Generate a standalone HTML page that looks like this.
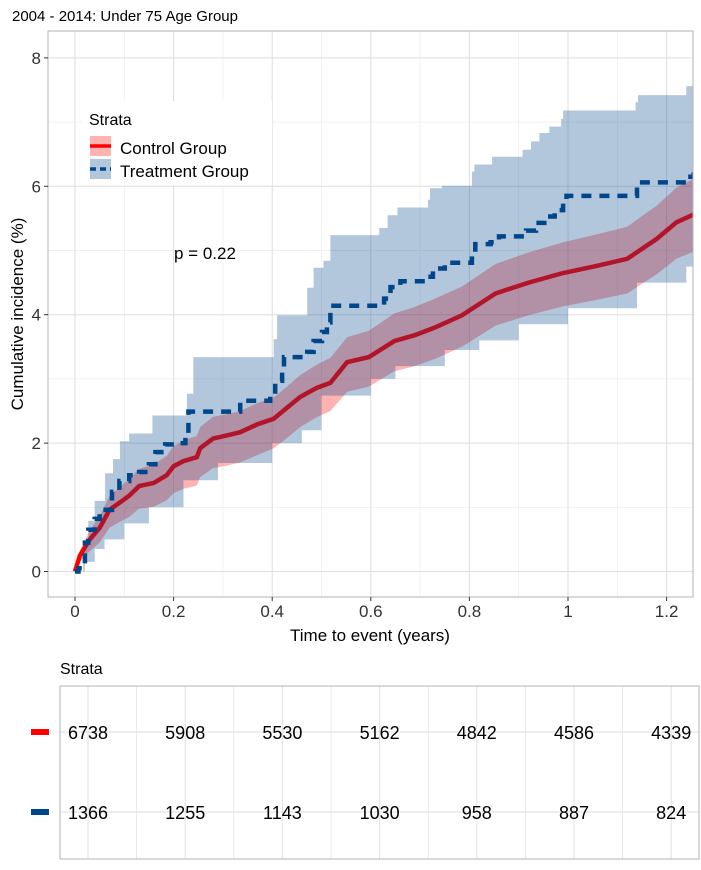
<!DOCTYPE html>
<html><head><meta charset="utf-8">
<style>
html,body{margin:0;padding:0;background:#fff;}
svg{display:block;font-family:"Liberation Sans",sans-serif;}
</style></head>
<body>
<svg id="chart" width="701" height="870" viewBox="0 0 701 870"></svg>
<script>
// ---- data ----
const controlTimes = [0,0.01,0.03,0.05,0.07,0.09,0.11,0.13,0.16,0.186,0.2,0.22,0.247,0.254,0.28,0.308,0.335,0.369,0.403,0.43,0.457,0.49,0.518,0.552,0.596,0.648,0.689,0.73,0.785,0.853,0.92,0.99,1.058,1.12,1.18,1.22,1.26];
const controlValues = [0,0.25,0.5,0.68,0.96,1.07,1.18,1.33,1.38,1.5,1.64,1.72,1.78,1.92,2.07,2.12,2.17,2.29,2.38,2.55,2.72,2.86,2.94,3.26,3.34,3.59,3.68,3.8,3.99,4.33,4.5,4.65,4.76,4.87,5.18,5.44,5.58];
const controlUpper = [0,0.33,0.64,0.86,1.18,1.31,1.44,1.6,1.67,1.8,1.95,2.04,2.11,2.25,2.41,2.45,2.5,2.62,2.71,2.88,3.06,3.22,3.33,3.65,3.75,4.02,4.12,4.25,4.44,4.79,4.97,5.13,5.25,5.37,5.7,5.98,6.14];
const controlLower = [0,0.15,0.32,0.45,0.68,0.77,0.85,0.98,1.01,1.11,1.22,1.29,1.34,1.47,1.61,1.65,1.7,1.81,1.92,2.08,2.25,2.4,2.5,2.8,2.88,3.12,3.2,3.31,3.5,3.83,3.99,4.13,4.23,4.33,4.63,4.87,5.0];
const treatTimes = [0,0.007,0.02,0.027,0.04,0.05,0.075,0.09,0.11,0.13,0.15,0.163,0.183,0.203,0.224,0.23,0.335,0.396,0.406,0.42,0.424,0.471,0.484,0.501,0.511,0.518,0.627,0.64,0.66,0.715,0.726,0.75,0.805,0.812,0.843,0.86,0.915,0.935,0.952,0.973,0.99,0.997,1.14,1.243,1.255];
const treatValues = [0,0.05,0.45,0.65,0.82,0.96,1.24,1.41,1.5,1.55,1.67,1.86,1.98,2.0,2.12,2.49,2.66,2.77,2.97,3.17,3.34,3.42,3.59,3.73,3.88,4.14,4.25,4.43,4.52,4.59,4.72,4.81,4.93,5.1,5.13,5.22,5.31,5.43,5.53,5.63,5.75,5.85,6.06,6.15,6.23];
const treatUpperTimes = [0,0.017,0.027,0.04,0.061,0.077,0.091,0.11,0.157,0.227,0.24,0.403,0.41,0.471,0.484,0.504,0.518,0.617,0.634,0.654,0.716,0.72,0.744,0.805,0.81,0.846,0.908,0.925,0.942,0.962,0.986,0.99,1.137,1.142,1.24,1.255];
const treatUpperValues = [0,0.45,0.79,1.1,1.53,1.75,2.03,2.15,2.43,2.77,3.34,3.62,3.99,4.42,4.73,4.84,5.24,5.35,5.55,5.67,5.79,5.97,6.01,6.23,6.34,6.46,6.57,6.7,6.83,6.93,7.05,7.18,7.31,7.42,7.56,7.7];
const treatLowerTimes = [0,0.02,0.04,0.06,0.1,0.15,0.22,0.29,0.4,0.46,0.5,0.6,0.65,0.75,0.82,0.9,1.0,1.14,1.24];
const treatLowerValues = [0,0.15,0.35,0.5,0.75,1.0,1.42,1.69,2.0,2.2,2.74,3.0,3.2,3.45,3.6,3.85,4.1,4.5,4.75];
const xTicks = [0,0.2,0.4,0.6,0.8,1,1.2];
const xTickLabels = ["0","0.2","0.4","0.6","0.8","1","1.2"];
const yTicks = [0,2,4,6,8];
const yTickLabels = ["0","2","4","6","8"];
const riskTimes = [0,0.2,0.4,0.6,0.8,1,1.2];
const riskControl = ["6738","5908","5530","5162","4842","4586","4339"];
const riskTreatment = ["1366","1255","1143","1030","958","887","824"];

// ---- layout ----
const NS="http://www.w3.org/2000/svg";
const svg=document.getElementById('chart');
const P={l:48,r:693,t:31,b:597};
const XMAX=1.26;
function x(t){return 75+t*493;}
function y(v){return 571.5-v*64.2;}
function tx(t){return 88+t*486;}
function el(tag,attrs,parent){const e=document.createElementNS(NS,tag);for(const k in attrs)e.setAttribute(k,attrs[k]);(parent||svg).appendChild(e);return e;}
function stepPts(ts,vs,end){let p=[];for(let i=0;i<ts.length;i++){if(i>0)p.push([x(ts[i]),y(vs[i-1])]);p.push([x(ts[i]),y(vs[i])]);}p.push([x(end),y(vs[vs.length-1])]);return p;}
function linePts(ts,vs){let p=[];for(let i=0;i<ts.length;i++)p.push([x(ts[i]),y(vs[i])]);return p;}
function ptsStr(p){return p.map(a=>a[0].toFixed(1)+','+a[1].toFixed(1)).join(' ');}

let t0=el('text',{x:12,y:21,'font-size':15,fill:'#000'});t0.textContent='2004 - 2014: Under 75 Age Group';


const defs=el('defs',{});
const cp=el('clipPath',{id:'clip'},defs);el('rect',{x:P.l,y:P.t,width:P.r-P.l,height:P.b-P.t},cp);
const grid=el('g',{});

for(let k=0;k<=13;k++){const t=k*0.1;if(x(t)>P.r)break;el('line',{x1:x(t),x2:x(t),y1:P.t,y2:P.b,stroke:k%2?'#ebebeb':'#dedede','stroke-width':k%2?0.7:1},grid);}
for(let v=0;v<=8;v++){el('line',{x1:P.l,x2:P.r,y1:y(v),y2:y(v),stroke:v%2?'#ebebeb':'#dedede','stroke-width':v%2?0.7:1},grid);}

const plot=el('g',{'clip-path':'url(#clip)'});
const cu=linePts(controlTimes,controlUpper);
const clo=linePts(controlTimes,controlLower);
const cRib=el('polygon',{points:ptsStr(cu.concat(clo.reverse())),fill:'#ff0000','fill-opacity':0.3},plot);

const cLine=el('polyline',{points:ptsStr(linePts(controlTimes,controlValues)),fill:'none',stroke:'#ff0000','stroke-width':4.5},plot);

const tu=stepPts(treatUpperTimes,treatUpperValues,XMAX);
const tl=stepPts(treatLowerTimes,treatLowerValues,XMAX);
const tRib=el('polygon',{points:ptsStr(tu.concat(tl.reverse())),fill:'#00468b','fill-opacity':0.3},plot);

const tLine=el('polyline',{points:ptsStr(stepPts(treatTimes,treatValues,XMAX)),fill:'none',stroke:'#00468b','stroke-width':4.5,'stroke-dasharray':'10 8'},plot);


const border=el('rect',{x:P.l,y:P.t,width:P.r-P.l,height:P.b-P.t,fill:'none',stroke:'#b3b3b3','stroke-width':1});


for(let i=0;i<xTicks.length;i++){
  el('line',{x1:x(xTicks[i]),x2:x(xTicks[i]),y1:P.b,y2:P.b+4,stroke:'#333'});
  const tt=el('text',{x:x(xTicks[i]),y:617,'font-size':17,fill:'#333','text-anchor':'middle'});tt.textContent=xTickLabels[i];
  
}
for(let i=0;i<yTicks.length;i++){
  el('line',{x1:P.l-4,x2:P.l,y1:y(yTicks[i]),y2:y(yTicks[i]),stroke:'#333'});
  const tt=el('text',{x:41,y:y(yTicks[i])+6,'font-size':17,fill:'#333','text-anchor':'end'});tt.textContent=yTickLabels[i];
  
}
const xt=el('text',{x:370,y:641,'font-size':17,fill:'#000','text-anchor':'middle'});xt.textContent='Time to event (years)';

const yt=el('text',{x:0,y:0,'font-size':17,fill:'#000','text-anchor':'middle',transform:'translate(23,314) rotate(-90)'});yt.textContent='Cumulative incidence (%)';


const lg=el('g',{});

el('rect',{x:82,y:101,width:190,height:84,fill:'#fff'},lg);
let lt=el('text',{x:89,y:125,'font-size':16,fill:'#000'},lg);lt.textContent='Strata';
const e1=el('g',{},lg);
el('rect',{x:90,y:136,width:21,height:20,fill:'#ff0000','fill-opacity':0.3},e1);
el('line',{x1:90,x2:111,y1:146,y2:146,stroke:'#ff0000','stroke-width':3.5},e1);
let l1=el('text',{x:120,y:154,'font-size':17,fill:'#000'},e1);l1.textContent='Control Group';
const e2=el('g',{},lg);
el('rect',{x:90,y:159,width:21,height:20,fill:'#00468b','fill-opacity':0.3},e2);
el('line',{x1:90,x2:111,y1:169,y2:169,stroke:'#00468b','stroke-width':3.5,'stroke-dasharray':'6 4'},e2);
let l2=el('text',{x:120,y:177,'font-size':17,fill:'#000'},e2);l2.textContent='Treatment Group';

const pv=el('text',{x:174,y:259,'font-size':17,fill:'#000'});pv.textContent='p = 0.22';


const st=el('text',{x:60,y:674,'font-size':16,fill:'#000'});st.textContent='Strata';

const tb=el('g',{});
const T={l:60,r:699,t:686,b:859};
for(let k=0;k<=12;k++){const xx=tx(k*0.1);el('line',{x1:xx,x2:xx,y1:T.t,y2:T.b,stroke:'#e0e0e0','stroke-width':k%2?0.7:1},tb);}
el('line',{x1:T.l,x2:T.r,y1:732,y2:732,stroke:'#dedede'},tb);
el('line',{x1:T.l,x2:T.r,y1:812,y2:812,stroke:'#dedede'},tb);
el('rect',{x:T.l,y:T.t,width:T.r-T.l,height:T.b-T.t,fill:'none',stroke:'#b3b3b3'},tb);
const m1=el('rect',{x:31,y:729,width:18,height:6,fill:'#ff0000'});

const m2=el('rect',{x:31,y:809,width:18,height:6,fill:'#00468b'});

for(let i=0;i<riskTimes.length;i++){
  const a=el('text',{x:tx(riskTimes[i]),y:739,'font-size':18,fill:'#000','text-anchor':'middle'},tb);a.textContent=riskControl[i];
  
  const b=el('text',{x:tx(riskTimes[i]),y:819,'font-size':18,fill:'#000','text-anchor':'middle'},tb);b.textContent=riskTreatment[i];
  
}
</script>
</body></html>
